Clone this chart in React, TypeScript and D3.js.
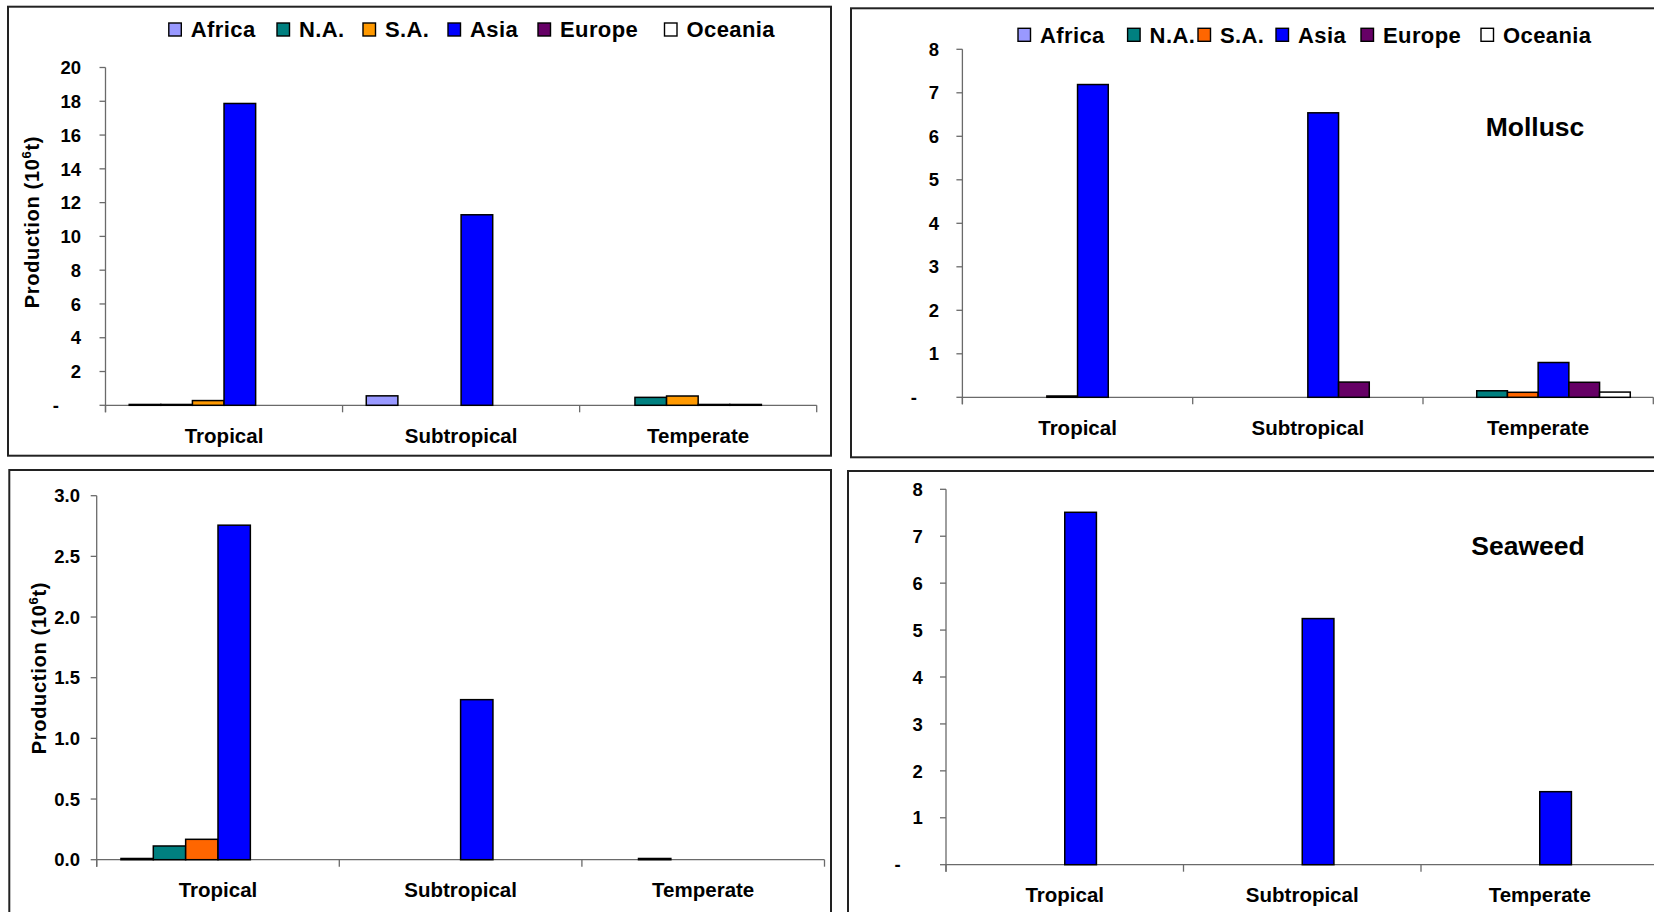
import React from "react";
import * as d3 from "d3";

const categories = ["Tropical", "Subtropical", "Temperate"];
const regions = ["Africa", "N.A.", "S.A.", "Asia", "Europe", "Oceania"];

// Top-left panel
const p1Africa = [0.05, 0.56, 0];
const p1NA = [0.05, 0, 0.47];
const p1SA = [0.28, 0, 0.55];
const p1Asia = [17.87, 11.28, 0.05];
const p1Europe = [0, 0, 0.05];
const p1Oceania = [0, 0, 0];

// Top-right panel (Mollusc)
const p2Africa = [0, 0, 0];
const p2NA = [0, 0, 0.15];
const p2SA = [0.03, 0, 0.115];
const p2Asia = [7.19, 6.54, 0.8];
const p2Europe = [0, 0.35, 0.345];
const p2Oceania = [0, 0, 0.12];

// Bottom-left panel
const p3Africa = [0.01, 0, 0];
const p3NA = [0.113, 0, 0.01];
const p3SA = [0.168, 0, 0];
const p3Asia = [2.757, 1.319, 0];
const p3Europe = [0, 0, 0];
const p3Oceania = [0, 0, 0];

// Bottom-right panel (Seaweed)
const p4Africa = [0, 0, 0];
const p4NA = [0, 0, 0];
const p4SA = [0, 0, 0];
const p4Asia = [7.51, 5.245, 1.556];
const p4Europe = [0, 0, 0];
const p4Oceania = [0, 0, 0];

const ticks20 = [0, 2, 4, 6, 8, 10, 12, 14, 16, 18, 20];
const ticks8 = [0, 1, 2, 3, 4, 5, 6, 7, 8];
const ticks3 = [0, 0.5, 1.0, 1.5, 2.0, 2.5, 3.0];

const colorsOrange = ["#9999FF", "#008080", "#FF9900", "#0000FF", "#660066", "#FFFFFF"];
const colorsRed = ["#9999FF", "#008080", "#FF6600", "#0000FF", "#660066", "#FFFFFF"];

const FONT = "'Liberation Sans', Arial, Helvetica, sans-serif";

const fmtDash = (v: number) => (v === 0 ? "-" : String(v));
const fmtOne = (v: number) => v.toFixed(1);

type PanelProps = {
  frame: { x: number; y: number; w: number; h: number };
  plot: { x0: number; x1: number; yTop: number; yZero: number };
  yMax: number;
  ticks: number[];
  fmt: (v: number) => string;
  series: number[][];
  colors: string[];
  tickRight: number;
  legend?: { cy: number; xs: number[] };
  title?: { text: string; cx: number; cy: number };
  yLabel?: { cx: number; cy: number };
};

function Panel(p: PanelProps) {
  const { frame, plot, yMax, ticks, fmt, series, colors, tickRight, legend, title, yLabel } = p;
  const y = d3.scaleLinear().domain([0, yMax]).range([plot.yZero, plot.yTop]);
  const xCat = d3
    .scaleBand<string>()
    .domain(categories)
    .range([plot.x0, plot.x1])
    .paddingInner(0)
    .paddingOuter(0);
  const catW = xCat.bandwidth();
  const xReg = d3
    .scaleBand<string>()
    .domain(regions)
    .range([0, catW])
    .paddingInner(0)
    .paddingOuter(0.75);
  const bw = xReg.bandwidth();
  const axisColor = "#6a6a6a";
  return (
    <g>
      <rect
        x={frame.x}
        y={frame.y}
        width={frame.w}
        height={frame.h}
        fill="#fff"
        stroke="#222"
        strokeWidth={2}
      />
      {/* y axis */}
      <line x1={plot.x0} x2={plot.x0} y1={plot.yTop} y2={plot.yZero + 7} stroke={axisColor} strokeWidth={1.3} />
      {ticks.map((t) => (
        <g key={"t" + t}>
          <line x1={plot.x0 - 6} x2={plot.x0} y1={y(t)} y2={y(t)} stroke={axisColor} strokeWidth={1.3} />
          <text
            x={fmt(t) === "-" ? tickRight - 22 : tickRight}
            y={y(t)}
            dy="0.36em"
            textAnchor="end"
            fontFamily={FONT}
            fontWeight="bold"
            fontSize={18.5}
            fill="#000"
          >
            {fmt(t)}
          </text>
        </g>
      ))}
      {/* x axis */}
      <line x1={plot.x0} x2={plot.x1} y1={plot.yZero} y2={plot.yZero} stroke={axisColor} strokeWidth={1.3} />
      {[0, 1, 2, 3].map((i) => (
        <line
          key={"c" + i}
          x1={plot.x0 + i * catW}
          x2={plot.x0 + i * catW}
          y1={plot.yZero}
          y2={plot.yZero + 7}
          stroke={axisColor}
          strokeWidth={1.3}
        />
      ))}
      {/* bars */}
      {categories.map((c, ci) =>
        regions.map((r, ri) => {
          const v = series[ri][ci];
          if (!v) return null;
          const bx = (xCat(c) as number) + (xReg(r) as number);
          return (
            <rect
              key={c + r}
              x={bx}
              y={y(v)}
              width={bw}
              height={plot.yZero - y(v)}
              fill={colors[ri]}
              stroke="#000"
              strokeWidth={1.5}
            />
          );
        })
      )}
      {/* category labels */}
      {categories.map((c) => (
        <text
          key={"l" + c}
          x={(xCat(c) as number) + catW / 2}
          y={plot.yZero + 30}
          dy="0.36em"
          textAnchor="middle"
          fontFamily={FONT}
          fontWeight="bold"
          fontSize={20.5}
          fill="#000"
        >
          {c}
        </text>
      ))}
      {legend &&
        regions.map((r, i) => (
          <g key={"lg" + r}>
            <rect
              x={legend.xs[i]}
              y={legend.cy - 6.5}
              width={12.5}
              height={13}
              fill={colors[i]}
              stroke="#000"
              strokeWidth={1.4}
            />
            <text
              x={legend.xs[i] + 22}
              y={legend.cy}
              dy="0.36em"
              fontFamily={FONT}
              fontWeight="bold"
              fontSize={22}
              letterSpacing={0.4}
              fill="#000"
            >
              {r}
            </text>
          </g>
        ))}
      {title && (
        <text
          x={title.cx}
          y={title.cy}
          dy="0.36em"
          textAnchor="middle"
          fontFamily={FONT}
          fontWeight="bold"
          fontSize={26.5}
          fill="#000"
        >
          {title.text}
        </text>
      )}
      {yLabel && (
        <text
          transform={`translate(${yLabel.cx},${yLabel.cy}) rotate(-90)`}
          dy="0.36em"
          textAnchor="middle"
          fontFamily={FONT}
          fontWeight="bold"
          fontSize={20}
          letterSpacing={0.7}
          fill="#000"
        >
          Production (10
          <tspan dy={-8} fontSize={13}>
            6
          </tspan>
          <tspan dy={8}>t)</tspan>
        </text>
      )}
    </g>
  );
}

export default function App() {
  return (
    <svg
      width={1654}
      height={912}
      style={{ position: "absolute", left: 0, top: 0, background: "#fff" }}
    >
      <rect x={0} y={0} width={1654} height={912} fill="#fff" />
      <Panel
        frame={{ x: 8, y: 6.7, w: 823, h: 449 }}
        plot={{ x0: 105.5, x1: 816.7, yTop: 67.5, yZero: 405.3 }}
        yMax={20}
        ticks={ticks20}
        fmt={fmtDash}
        series={[p1Africa, p1NA, p1SA, p1Asia, p1Europe, p1Oceania]}
        colors={colorsOrange}
        tickRight={81}
        legend={{ cy: 29.5, xs: [168.8, 277, 363, 448, 538, 664.5] }}
        yLabel={{ cx: 31.5, cy: 222 }}
      />
      <Panel
        frame={{ x: 851, y: 8.3, w: 830, h: 449 }}
        plot={{ x0: 962.4, x1: 1653.3, yTop: 49.3, yZero: 397.3 }}
        yMax={8}
        ticks={ticks8}
        fmt={fmtDash}
        series={[p2Africa, p2NA, p2SA, p2Asia, p2Europe, p2Oceania]}
        colors={colorsRed}
        tickRight={939}
        legend={{ cy: 34.8, xs: [1018, 1127.6, 1198, 1276, 1361, 1481] }}
        title={{ text: "Mollusc", cx: 1535, cy: 126.6 }}
      />
      <Panel
        frame={{ x: 9.3, y: 470, w: 821.7, h: 470 }}
        plot={{ x0: 96.7, x1: 824.5, yTop: 495.7, yZero: 859.7 }}
        yMax={3}
        ticks={ticks3}
        fmt={fmtOne}
        series={[p3Africa, p3NA, p3SA, p3Asia, p3Europe, p3Oceania]}
        colors={colorsRed}
        tickRight={80}
        yLabel={{ cx: 38.5, cy: 668 }}
      />
      <Panel
        frame={{ x: 848, y: 471, w: 830, h: 470 }}
        plot={{ x0: 946, x1: 1658.5, yTop: 489.3, yZero: 864.7 }}
        yMax={8}
        ticks={ticks8}
        fmt={fmtDash}
        series={[p4Africa, p4NA, p4SA, p4Asia, p4Europe, p4Oceania]}
        colors={colorsRed}
        tickRight={922.7}
        title={{ text: "Seaweed", cx: 1528, cy: 545 }}
      />
    </svg>
  );
}
